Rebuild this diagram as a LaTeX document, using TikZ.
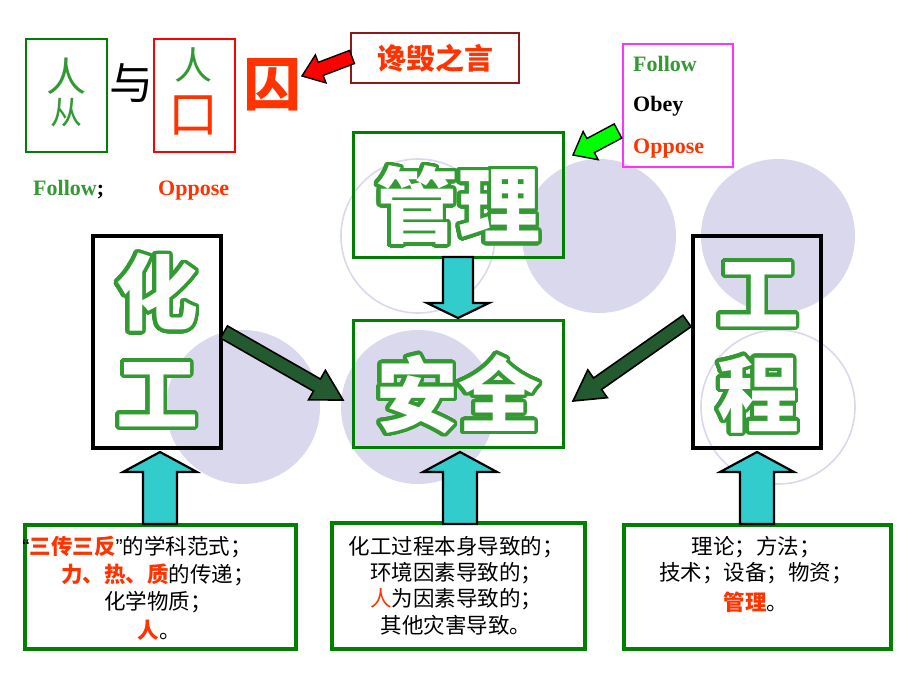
\documentclass[tikz,border=0pt]{standalone}
\usepackage{fontspec}
\usepackage{contour}
\usetikzlibrary{calc}
\setmainfont{Liberation Serif}
\newfontfamily\cjk{Noto Sans CJK SC}
\newfontfamily\arialf{Liberation Sans}
\definecolor{bxgreen}{HTML}{008000}
\definecolor{txgreen}{HTML}{339933}
\definecolor{orred}{HTML}{FF3300}
\definecolor{lav}{HTML}{DAD8EC}
\definecolor{dkred}{HTML}{8B1A1A}
\definecolor{cyanf}{HTML}{33CCCC}
\definecolor{dkgreen}{HTML}{245A30}
\definecolor{brgreen}{HTML}{00FF00}
\definecolor{mag}{HTML}{FF33FF}
\contourlength{3.5pt}
\contournumber{48}
\newcommand{\blockarrow}[6]{%
  \coordinate (bahead) at ($(#3)!#6!(#2)$);
  \path[#1] ($(#2)!#4!90:(#3)$) -- ($(bahead)!#4!-90:(#2)$) -- ($(bahead)!#5!-90:(#2)$) -- (#3) -- ($(bahead)!#5!90:(#2)$) -- ($(bahead)!#4!90:(#2)$) -- ($(#2)!#4!-90:(#3)$) -- cycle;}
\begin{document}
\begin{tikzpicture}[x=1pt,y=-1pt,
  lavfill/.style={fill=lav},
  lavring/.style={draw=lav,line width=1.6pt},
  boxb/.style={inner sep=0pt,outer sep=0pt},
  gbox/.style={boxb,draw=bxgreen,line width=3pt},
  kbox/.style={boxb,draw=black,line width=3.5pt},
  thinbox/.style={boxb,line width=1.6pt},
  smalltxt/.style={inner sep=0pt,font=\cjk\fontsize{21.5}{26}\selectfont},
  bigtxt/.style={inner sep=0pt,text=white,font=\cjk\bfseries\fontsize{82}{82}\selectfont},
  latin/.style={inner sep=0pt,anchor=base west,font=\bfseries\fontsize{22}{26}\selectfont},
  cyanarrow/.style={fill=cyanf,draw=black,line width=2.2pt,line join=miter},
  darkarrow/.style={fill=dkgreen,draw=black,line width=1.6pt,line join=miter},
  redarrow/.style={fill=red,draw=black,line width=1.4pt,line join=miter},
  greenarrow/.style={fill=brgreen,draw=black,line width=1.4pt,line join=miter}]
\useasboundingbox[fill=white] (0,0) rectangle (920,690);
% background circles
\path[lavfill] (599,236) circle[radius=77];
\path[lavfill] (778,236) circle[radius=77];
\path[lavfill] (243,407) circle[radius=77];
\path[lavfill] (418,407) circle[radius=77];
\path[lavring] (418,236) circle[radius=77];
\path[lavring] (778,407) circle[radius=77];
% top-left
\node[thinbox,draw=bxgreen,minimum width=81pt,minimum height=113pt] (follow) at (66.5,95.5) {};
\node[thinbox,draw=red,minimum width=81pt,minimum height=113pt] (oppose) at (194.5,95.5) {};
\node[inner sep=0pt,text=txgreen,font=\cjk\fontsize{40}{40}\selectfont] (fren) at (66,76) {人};
\node[inner sep=0pt,text=txgreen,font=\cjk\fontsize{32}{32}\selectfont] (fcong) at (66,113) {从};
\node[inner sep=0pt,font=\cjk\fontsize{44}{44}\selectfont] (yu) at (131,83) {与};
\node[inner sep=0pt,text=txgreen,font=\cjk\fontsize{38}{38}\selectfont] (oren) at (193,65) {人};
\node[inner sep=0pt,text=orred,font=\cjk\fontsize{50}{50}\selectfont] (okou) at (193,115) {口};
\node[inner sep=0pt,text=orred,font=\cjk\bfseries\fontsize{58}{58}\selectfont] (qiu) at (272,85) {囚};
\node[latin,text=txgreen] (lfollow) at (33,195) {Follow\textcolor{black}{;}};
\node[latin,text=orred] (loppose) at (158,195) {Oppose};
% slander box
\node[boxb,draw=dkred,line width=2.6pt,minimum width=168pt,minimum height=50pt] (slander) at (435,58) {};
\node[inner sep=0pt,text=orred,font=\cjk\bfseries\fontsize{29}{29}\selectfont] (slandert) at (435,58) {谗毁之言};
% magenta box
\node[thinbox,draw=mag,minimum width=110pt,minimum height=123pt] (fob) at (678,105.5) {};
\node[latin,text=txgreen] (ffollow) at (633,72) {Follow};
\node[latin,text=black] (fobey) at (633,112) {Obey};
\node[latin,text=orred] (foppose) at (633,153) {Oppose};
% main boxes
\node[gbox,minimum width=210pt,minimum height=125pt] (mgmt) at (458,194.5) {};
\node[gbox,minimum width=210pt,minimum height=127pt] (safe) at (458,383.5) {};
\node[kbox,minimum width=128pt,minimum height=212pt] (chem) at (157,342) {};
\node[kbox,minimum width=128pt,minimum height=212pt] (eng) at (757,342) {};
\node[gbox,line width=3.5pt,minimum width=271pt,minimum height=124pt] (bl) at (160.5,587) {};
\node[gbox,line width=3.5pt,minimum width=253pt,minimum height=126pt] (bm) at (458.5,586) {};
\node[gbox,line width=3.5pt,minimum width=267pt,minimum height=124pt] (br) at (757.5,587) {};
% arrows
\coordinate (ra1) at (352,57); \coordinate (ra2) at (302,76);
\blockarrow{redarrow}{ra1}{ra2}{7pt}{15pt}{20pt}
\coordinate (ga1) at (618,131); \coordinate (ga2) at (573,155);
\blockarrow{greenarrow}{ga1}{ga2}{8pt}{16pt}{20pt}
\coordinate (da1) at (224,332); \coordinate (da2) at (343,400);
\blockarrow{darkarrow}{da1}{da2}{7pt}{17pt}{30pt}
\coordinate (db1) at (687,321); \coordinate (db2) at (573,401);
\blockarrow{darkarrow}{db1}{db2}{7pt}{17pt}{30pt}
\coordinate (ca1) at (458,257); \coordinate (ca2) at (458,318);
\blockarrow{cyanarrow}{ca1}{ca2}{15pt}{31pt}{15pt}
\coordinate (cb1) at (160,524); \coordinate (cb2) at (160,452);
\blockarrow{cyanarrow}{cb1}{cb2}{17pt}{37pt}{20pt}
\coordinate (cc1) at (460,524); \coordinate (cc2) at (460,452);
\blockarrow{cyanarrow}{cc1}{cc2}{17pt}{37pt}{20pt}
\coordinate (cd1) at (757,524); \coordinate (cd2) at (757,452);
\blockarrow{cyanarrow}{cd1}{cd2}{17pt}{37pt}{20pt}
% big outlined text
\node[bigtxt] (tmgmt) at (458,207) {\contour{txgreen}{管理}};
\node[bigtxt] (tsafe) at (458,396) {\contour{txgreen}{安全}};
\node[bigtxt] (thua) at (157,294) {\contour{txgreen}{化}};
\node[bigtxt] (tgong) at (157,396) {\contour{txgreen}{工}};
\node[bigtxt] (tgong2) at (758,296) {\contour{txgreen}{工}};
\node[bigtxt] (tcheng) at (758,396) {\contour{txgreen}{程}};
% bottom texts
\node[smalltxt] (l1) at (137,547) {{\arialf“}\textcolor{orred}{\bfseries 三传三反}{\arialf”}的学科范式；};
\node[smalltxt] (l2) at (158,575) {\textcolor{orred}{\bfseries 力、热、质}的传递；};
\node[smalltxt] (l3) at (158,602) {化学物质；};
\node[smalltxt] (l4) at (159,630) {\textcolor{orred}{\bfseries 人}。};
\node[smalltxt] (m1) at (456,547) {化工过程本身导致的；};
\node[smalltxt] (m2) at (456,573) {环境因素导致的；};
\node[smalltxt] (m3) at (456,599) {\textcolor{orred}{人}为因素导致的；};
\node[smalltxt] (m4) at (456,625) {其他灾害导致。};
\node[smalltxt] (r1) at (756,547) {理论；方法；};
\node[smalltxt] (r2) at (756,573) {技术；设备；物资；};
\node[smalltxt] (r3) at (756,602) {\textcolor{orred}{\bfseries 管理}。};
\end{tikzpicture}
\end{document}
